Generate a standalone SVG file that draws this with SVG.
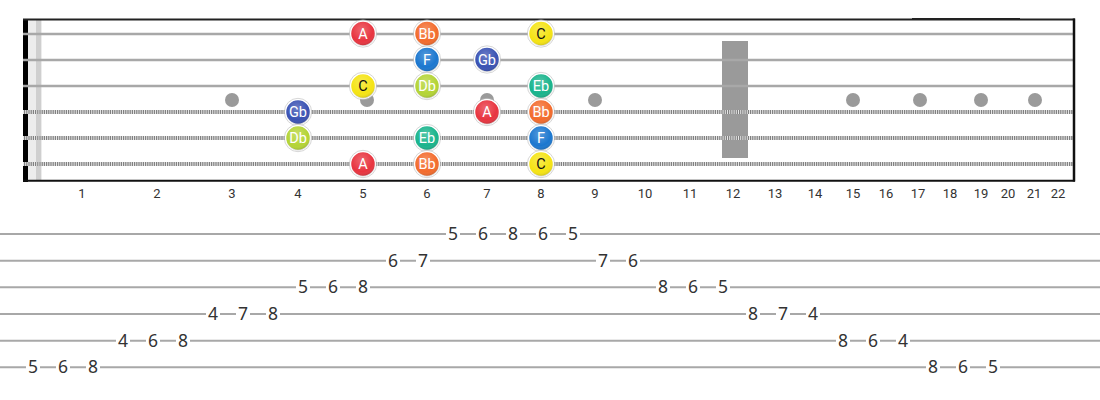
<svg xmlns="http://www.w3.org/2000/svg" width="1100" height="400" viewBox="0 0 1100 400">
<defs>
<radialGradient id="shade" cx="45%" cy="35%" r="65%">
<stop offset="0" stop-color="#fff" stop-opacity="0.25"/>
<stop offset="0.7" stop-color="#fff" stop-opacity="0"/>
<stop offset="1" stop-color="#000" stop-opacity="0.18"/>
</radialGradient>
<g id="fw"><line x1="-1.6" y1="20" x2="-1.6" y2="180" /><line x1="1.6" y1="20" x2="1.6" y2="180"/></g>
</defs>
<style>
.fw line{stroke:#ababab;stroke-width:1.3}
.plain{stroke:#a8a8a8;stroke-width:2.6}
.wbase{stroke:#808080;stroke-width:4}
.wover{stroke:#e6e6e6;stroke-width:4;stroke-dasharray:1 1.2}
.inlay{fill:#9a9a9a}
.fn{font-family:Roboto,"Liberation Sans",sans-serif;font-size:13px;fill:#333;text-anchor:middle}
.note circle.b{stroke:#fff;stroke-width:1.5}
.note circle.o{fill:none;stroke:#bbb;stroke-width:0.6}
.note text{font-family:Roboto,"Liberation Sans",sans-serif;font-size:14.5px;text-anchor:middle;fill:#fff}
.note text.dk{fill:#111}
.tl{stroke:#a8a8a8;stroke-width:2}
.tab rect{fill:#fff}
.tab text{font-family:"Noto Sans","Open Sans",sans-serif;font-size:17.5px;fill:#333;text-anchor:middle}
</style>
<rect width="1100" height="400" fill="#fff"/>
<g id="fretboard">
<rect x="28" y="20" width="14" height="161" fill="#ececec"/>
<rect x="36" y="20" width="5" height="161" fill="#cfcfcf"/>
<rect x="23" y="19" width="5" height="163" fill="#000"/>
<g class="fw">
<use href="#fw" x="119"/><use href="#fw" x="196"/><use href="#fw" x="268"/><use href="#fw" x="335"/><use href="#fw" x="398"/><use href="#fw" x="460"/><use href="#fw" x="516"/><use href="#fw" x="570"/><use href="#fw" x="620"/><use href="#fw" x="668"/><use href="#fw" x="713"/><use href="#fw" x="756"/><use href="#fw" x="798"/><use href="#fw" x="836"/><use href="#fw" x="871"/><use href="#fw" x="905"/><use href="#fw" x="937"/><use href="#fw" x="967"/><use href="#fw" x="995"/><use href="#fw" x="1022"/><use href="#fw" x="1048"/>
</g>
<rect x="722" y="41" width="26" height="117" fill="#9a9a9a"/>
<g>
<circle class="inlay" cx="232" cy="100" r="7"/>
<circle class="inlay" cx="367" cy="100" r="7"/>
<circle class="inlay" cx="487" cy="100" r="7"/>
<circle class="inlay" cx="595" cy="100" r="7"/>
<circle class="inlay" cx="853" cy="100" r="7"/>
<circle class="inlay" cx="920" cy="100" r="7"/>
<circle class="inlay" cx="981" cy="100" r="7"/>
<circle class="inlay" cx="1035" cy="100" r="7"/>
</g>
<line class="plain" x1="23" y1="34" x2="1075" y2="34"/>
<line class="plain" x1="23" y1="60" x2="1075" y2="60"/>
<line class="plain" x1="23" y1="86" x2="1075" y2="86"/>
<line class="wbase" x1="23" y1="112" x2="1075" y2="112"/>
<line class="wover" x1="23" y1="112" x2="1075" y2="112"/>
<line class="wbase" x1="23" y1="138" x2="1075" y2="138"/>
<line class="wover" x1="23" y1="138" x2="1075" y2="138"/>
<line class="wbase" x1="23" y1="164" x2="1075" y2="164"/>
<line class="wover" x1="23" y1="164" x2="1075" y2="164"/>
<line x1="23" y1="19.5" x2="1075" y2="19.5" stroke="#222" stroke-width="2"/>
<line x1="912" y1="19" x2="1020" y2="19" stroke="#222" stroke-width="2"/>
<line x1="23" y1="180.8" x2="1075" y2="180.8" stroke="#111" stroke-width="2"/>
<line x1="1074" y1="18.5" x2="1074" y2="181.5" stroke="#111" stroke-width="2.5"/>
<g>
<text class="fn" x="82" y="198">1</text><text class="fn" x="157" y="198">2</text><text class="fn" x="232" y="198">3</text><text class="fn" x="298" y="198">4</text><text class="fn" x="363" y="198">5</text><text class="fn" x="427" y="198">6</text><text class="fn" x="487" y="198">7</text><text class="fn" x="541" y="198">8</text><text class="fn" x="595" y="198">9</text><text class="fn" x="645" y="198">10</text><text class="fn" x="690" y="198">11</text><text class="fn" x="733" y="198">12</text><text class="fn" x="775" y="198">13</text><text class="fn" x="815" y="198">14</text><text class="fn" x="853" y="198">15</text><text class="fn" x="886" y="198">16</text><text class="fn" x="918" y="198">17</text><text class="fn" x="950" y="198">18</text><text class="fn" x="981" y="198">19</text><text class="fn" x="1008" y="198">20</text><text class="fn" x="1034" y="198">21</text><text class="fn" x="1058" y="198">22</text>
</g>
</g>
<g id="n-s1-A" class="note"><circle class="b" cx="363" cy="33.5" r="12.5" fill="#e8343f"/><circle cx="363" cy="33.5" r="12.5" fill="url(#shade)"/><circle class="o" cx="363" cy="33.5" r="13.7"/><text x="363" y="38.5">A</text></g>
<g id="n-s1-Bb" class="note"><circle class="b" cx="427" cy="33.5" r="12.5" fill="#f36b2c"/><circle cx="427" cy="33.5" r="12.5" fill="url(#shade)"/><circle class="o" cx="427" cy="33.5" r="13.7"/><text x="427" y="38.5">Bb</text></g>
<g id="n-s1-C" class="note"><circle class="b" cx="541" cy="33.5" r="12.5" fill="#f5e414"/><circle cx="541" cy="33.5" r="12.5" fill="url(#shade)"/><circle class="o" cx="541" cy="33.5" r="13.7"/><text class="dk" x="541" y="38.5">C</text></g>
<g id="n-s2-F" class="note"><circle class="b" cx="427" cy="59.5" r="12.5" fill="#1b77cf"/><circle cx="427" cy="59.5" r="12.5" fill="url(#shade)"/><circle class="o" cx="427" cy="59.5" r="13.7"/><text x="427" y="64.5">F</text></g>
<g id="n-s2-Gb" class="note"><circle class="b" cx="487" cy="59.5" r="12.5" fill="#3a52b3"/><circle cx="487" cy="59.5" r="12.5" fill="url(#shade)"/><circle class="o" cx="487" cy="59.5" r="13.7"/><text x="487" y="64.5">Gb</text></g>
<g id="n-s3-C" class="note"><circle class="b" cx="363" cy="86" r="12.5" fill="#f5e414"/><circle cx="363" cy="86" r="12.5" fill="url(#shade)"/><circle class="o" cx="363" cy="86" r="13.7"/><text class="dk" x="363" y="91">C</text></g>
<g id="n-s3-Db" class="note"><circle class="b" cx="427" cy="86" r="12.5" fill="#b4d435"/><circle cx="427" cy="86" r="12.5" fill="url(#shade)"/><circle class="o" cx="427" cy="86" r="13.7"/><text x="427" y="91">Db</text></g>
<g id="n-s3-Eb" class="note"><circle class="b" cx="541" cy="86" r="12.5" fill="#19b48c"/><circle cx="541" cy="86" r="12.5" fill="url(#shade)"/><circle class="o" cx="541" cy="86" r="13.7"/><text x="541" y="91">Eb</text></g>
<g id="n-s4-Gb" class="note"><circle class="b" cx="298" cy="112" r="12.5" fill="#3a52b3"/><circle cx="298" cy="112" r="12.5" fill="url(#shade)"/><circle class="o" cx="298" cy="112" r="13.7"/><text x="298" y="117">Gb</text></g>
<g id="n-s4-A" class="note"><circle class="b" cx="487" cy="112" r="12.5" fill="#e8343f"/><circle cx="487" cy="112" r="12.5" fill="url(#shade)"/><circle class="o" cx="487" cy="112" r="13.7"/><text x="487" y="117">A</text></g>
<g id="n-s4-Bb" class="note"><circle class="b" cx="541" cy="112" r="12.5" fill="#f36b2c"/><circle cx="541" cy="112" r="12.5" fill="url(#shade)"/><circle class="o" cx="541" cy="112" r="13.7"/><text x="541" y="117">Bb</text></g>
<g id="n-s5-Db" class="note"><circle class="b" cx="298" cy="138" r="12.5" fill="#b4d435"/><circle cx="298" cy="138" r="12.5" fill="url(#shade)"/><circle class="o" cx="298" cy="138" r="13.7"/><text x="298" y="143">Db</text></g>
<g id="n-s5-Eb" class="note"><circle class="b" cx="427" cy="138" r="12.5" fill="#19b48c"/><circle cx="427" cy="138" r="12.5" fill="url(#shade)"/><circle class="o" cx="427" cy="138" r="13.7"/><text x="427" y="143">Eb</text></g>
<g id="n-s5-F" class="note"><circle class="b" cx="541" cy="138" r="12.5" fill="#1b77cf"/><circle cx="541" cy="138" r="12.5" fill="url(#shade)"/><circle class="o" cx="541" cy="138" r="13.7"/><text x="541" y="143">F</text></g>
<g id="n-s6-A" class="note"><circle class="b" cx="363" cy="164" r="12.5" fill="#e8343f"/><circle cx="363" cy="164" r="12.5" fill="url(#shade)"/><circle class="o" cx="363" cy="164" r="13.7"/><text x="363" y="169">A</text></g>
<g id="n-s6-Bb" class="note"><circle class="b" cx="427" cy="164" r="12.5" fill="#f36b2c"/><circle cx="427" cy="164" r="12.5" fill="url(#shade)"/><circle class="o" cx="427" cy="164" r="13.7"/><text x="427" y="169">Bb</text></g>
<g id="n-s6-C" class="note"><circle class="b" cx="541" cy="164" r="12.5" fill="#f5e414"/><circle cx="541" cy="164" r="12.5" fill="url(#shade)"/><circle class="o" cx="541" cy="164" r="13.7"/><text class="dk" x="541" y="169">C</text></g>
<g id="tab-lines">
<line class="tl" x1="0" y1="234" x2="1100" y2="234"/>
<line class="tl" x1="0" y1="260.7" x2="1100" y2="260.7"/>
<line class="tl" x1="0" y1="287.3" x2="1100" y2="287.3"/>
<line class="tl" x1="0" y1="314" x2="1100" y2="314"/>
<line class="tl" x1="0" y1="340.7" x2="1100" y2="340.7"/>
<line class="tl" x1="0" y1="367.3" x2="1100" y2="367.3"/>
</g>
<g id="tab" class="tab">
<g id="tab-s1">
<rect x="446" y="226" width="14" height="16"/><text x="453" y="240">5</text>
<rect x="476" y="226" width="14" height="16"/><text x="483" y="240">6</text>
<rect x="506" y="226" width="14" height="16"/><text x="513" y="240">8</text>
<rect x="536" y="226" width="14" height="16"/><text x="543" y="240">6</text>
<rect x="566" y="226" width="14" height="16"/><text x="573" y="240">5</text>
</g>
<g id="tab-s2">
<rect x="386" y="252.7" width="14" height="16"/><text x="393" y="266.7">6</text>
<rect x="416" y="252.7" width="14" height="16"/><text x="423" y="266.7">7</text>
<rect x="596" y="252.7" width="14" height="16"/><text x="603" y="266.7">7</text>
<rect x="626" y="252.7" width="14" height="16"/><text x="633" y="266.7">6</text>
</g>
<g id="tab-s3">
<rect x="296" y="279.3" width="14" height="16"/><text x="303" y="293.3">5</text>
<rect x="326" y="279.3" width="14" height="16"/><text x="333" y="293.3">6</text>
<rect x="356" y="279.3" width="14" height="16"/><text x="363" y="293.3">8</text>
<rect x="656" y="279.3" width="14" height="16"/><text x="663" y="293.3">8</text>
<rect x="686" y="279.3" width="14" height="16"/><text x="693" y="293.3">6</text>
<rect x="716" y="279.3" width="14" height="16"/><text x="723" y="293.3">5</text>
</g>
<g id="tab-s4">
<rect x="206" y="306" width="14" height="16"/><text x="213" y="320">4</text>
<rect x="236" y="306" width="14" height="16"/><text x="243" y="320">7</text>
<rect x="266" y="306" width="14" height="16"/><text x="273" y="320">8</text>
<rect x="746" y="306" width="14" height="16"/><text x="753" y="320">8</text>
<rect x="776" y="306" width="14" height="16"/><text x="783" y="320">7</text>
<rect x="806" y="306" width="14" height="16"/><text x="813" y="320">4</text>
</g>
<g id="tab-s5">
<rect x="116" y="332.7" width="14" height="16"/><text x="123" y="346.7">4</text>
<rect x="146" y="332.7" width="14" height="16"/><text x="153" y="346.7">6</text>
<rect x="176" y="332.7" width="14" height="16"/><text x="183" y="346.7">8</text>
<rect x="836" y="332.7" width="14" height="16"/><text x="843" y="346.7">8</text>
<rect x="866" y="332.7" width="14" height="16"/><text x="873" y="346.7">6</text>
<rect x="896" y="332.7" width="14" height="16"/><text x="903" y="346.7">4</text>
</g>
<g id="tab-s6">
<rect x="26" y="359.3" width="14" height="16"/><text x="33" y="373.3">5</text>
<rect x="56" y="359.3" width="14" height="16"/><text x="63" y="373.3">6</text>
<rect x="86" y="359.3" width="14" height="16"/><text x="93" y="373.3">8</text>
<rect x="926" y="359.3" width="14" height="16"/><text x="933" y="373.3">8</text>
<rect x="956" y="359.3" width="14" height="16"/><text x="963" y="373.3">6</text>
<rect x="986" y="359.3" width="14" height="16"/><text x="993" y="373.3">5</text>
</g>
</g>
</svg>
